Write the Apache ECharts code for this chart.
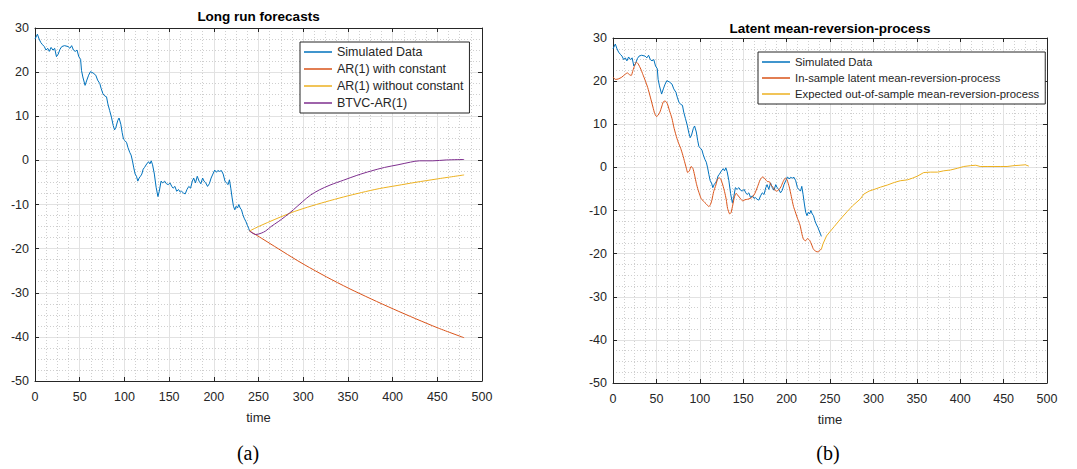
<!DOCTYPE html>
<html>
<head>
<meta charset="utf-8">
<script src="https://cdn.jsdelivr.net/npm/echarts@6/dist/echarts.min.js"></script>
<style>
html,body{margin:0;padding:0;background:#fff;}
#chart{width:1077px;height:469px;}
</style>
</head>
<body>
<div id="chart"></div>
<script>
// ---------- data ----------
const xTicks = [0, 50, 100, 150, 200, 250, 300, 350, 400, 450, 500];
const yTicks = [-50, -40, -30, -20, -10, 0, 10, 20, 30];

const simT = [0,2.7,4.6,6.5,8.5,10.4,12.3,14.2,16,18,20,22,24,26,28,30,33,37,39,41,43,45,47,49,51,52,53.5,56,58,60,62,65,68,70,72.5,74,76,78,80,81.5,83.5,85.5,87.5,89,90.5,92.5,94,96,97.5,99,101,102.5,104,106,107.5,109,110.5,112,113.5,115,116.5,118,119.5,121,122.5,125,127,128.5,130,131.5,133.5,135.5,137.5,139,141,143,145,147,149,151,153,154.5,156.5,158.5,160.5,162.5,164,166,168,170,172,174,176,177.5,179.5,181.5,183.5,185.5,187.5,189,191,193,195,197,199,201,203,204.5,206.5,208.5,210.5,212.5,214,216,217.5,219,220.5,222,223.5,225,226.5,228,229.5,231,232.5,234,236,237.5,239,240];
const simV = [27.5,28.6,27.5,26.7,26.2,25.8,25,25.4,24.7,25.6,25,25.4,23.5,24.1,25.2,25.8,26,25.8,25.4,26,25,24.7,25,23.5,22.9,20.4,18.9,17,18.2,19.3,20.1,19.8,19.3,18.2,17.4,16.3,15.1,14.6,14.4,12.8,11.3,9.8,7.9,6.9,7.5,9,9.6,8.2,6.3,4.8,4.4,4,2.9,1.8,1.2,-0.1,-1.7,-3.1,-3.6,-4.7,-4,-3.6,-3.1,-2,-1.6,-0.8,-0.3,-0.8,-0.1,-1,-3.1,-6.1,-8.2,-7,-4.7,-5.1,-4.7,-5.3,-5.5,-5.1,-5.9,-6.3,-5.9,-7,-6.6,-7.2,-7,-7.4,-7.6,-6.6,-5.9,-6.3,-4.7,-4,-5.1,-3.6,-4.7,-5.3,-4,-4.7,-5.1,-5.9,-5.3,-4,-3.1,-2.2,-2.7,-2.3,-2.5,-2.3,-3.1,-4.7,-5.1,-5.5,-4.4,-6.3,-8.5,-10.4,-11.2,-10.4,-10.8,-10,-10.8,-11.2,-12.3,-13.1,-13.9,-14.7,-15.4,-16];

const arConstT = [240,253,268,287,301,326,351,376,401,426,451,480];
const arConstV = [-16,-17.6,-19.5,-21.9,-23.6,-26.4,-29.0,-31.4,-33.7,-35.9,-38.0,-40.2];

const arNoConstT = [240,250,260,275,290,305,325,345,365,385,405,425,450,480];
const arNoConstV = [-16,-15.0,-14.1,-12.8,-11.6,-10.6,-9.4,-8.3,-7.3,-6.4,-5.7,-5.0,-4.2,-3.3];

const btvcT = [240,247,253,258,264,272,280,289,299,308,318,330,345,360,376,391,406,420,430,445,460,480];
const btvcV = [-16,-16.8,-16.5,-16.0,-15.0,-13.9,-12.7,-11.2,-9.4,-7.9,-6.7,-5.6,-4.5,-3.4,-2.4,-1.6,-1.0,-0.4,-0.1,-0.1,0.1,0.2];

const latentT = [0,3,6,10,13.5,16.5,19,21,23,25,27,29,32,34.5,37,40,43,46,48,50,52,54,56,58,60,62.5,65,68,70,72.5,75,78,80.5,82.5,84.5,86,88,90,92,94,96,98,100,101.5,104.5,107.5,110.5,112.5,114,116,118.5,120.5,122.5,124.5,126.5,128.5,130.5,132,134.5,136,138,140,142,143.5,145.5,147.5,149.5,152,155,158,161,163.5,166.5,169.5,172.5,174.5,176,178,180,182,184,186,188.5,191,193.5,196,198.5,200.5,203,205.5,208,210,212.5,215.5,217.5,219.5,222,224,226.5,229,231,234,236.5,238,240];
const latentV = [20.9,20.4,20.5,20.9,21.5,21.9,21.5,21.3,22.5,23.6,24.4,24.0,22.8,21.5,20.2,18.5,16.3,14.0,12.5,11.8,12.1,12.8,14.0,15.2,15.4,14.8,13.2,11.3,9.4,7.5,5.9,4.4,2.8,1.3,-0.2,-1.2,-0.8,0.2,-0.2,-1.8,-3.7,-5.2,-6.4,-7.2,-7.9,-8.5,-9.1,-8.5,-7.5,-5.6,-4.1,-2.7,-2.4,-2.9,-4.1,-5.6,-7.5,-9.5,-10.8,-10.5,-8.7,-6.8,-6.0,-6.4,-6.9,-7.4,-7.8,-7.5,-7.4,-7.2,-6.8,-6.0,-4.5,-2.9,-2.2,-2.5,-2.9,-3.3,-3.3,-4.1,-4.5,-5.2,-5.5,-5.2,-4.5,-3.3,-2.5,-2.9,-4.5,-6.8,-9.1,-10.3,-11.8,-13.4,-15.3,-16.7,-17.0,-16.5,-16.9,-18.0,-19.0,-19.5,-19.6,-19.2,-19.0];

const expectT = [240,242,246,250,255,262,270,276,280,285,289,295,301,308,316,324,331,339,345,351,358,366,374,381,389,397,404,412,418,423,431,439,446,454,462,469,475,479];
const expectV = [-19.0,-17.7,-15.9,-14.9,-13.7,-12.0,-10.2,-8.9,-8.2,-7.3,-6.2,-5.5,-5.1,-4.6,-4.1,-3.5,-3.1,-2.9,-2.5,-2.0,-1.2,-1.1,-1.1,-0.8,-0.6,-0.2,0.2,0.4,0.5,0.2,0.2,0.2,0.2,0.2,0.4,0.5,0.6,0.3];

const leftNames = ['Simulated Data', 'AR(1) with constant', 'AR(1) without constant', 'BTVC-AR(1)'];
const rightNames = ['Simulated Data', 'In-sample latent mean-reversion-process', 'Expected out-of-sample mean-reversion-process'];
const titles = ['Long run forecasts', 'Latent mean-reversion-process'];
const xName = 'time';
const captions = ['(a)', '(b)'];

// ---------- styling ----------
const C = { blue:'#0072BD', orange:'#D95319', yellow:'#EDB120', purple:'#7E2F8E' };
const FONT = 'Liberation Sans, Arial, Helvetica, sans-serif';
const SERIF = 'Liberation Serif, DejaVu Serif, serif';
const AX = '#262626';
const pairs = (t, v) => t.map((x, i) => [x, v[i]]);

const grids = [
  { left: 35, top: 28, width: 447, height: 353 },
  { left: 613, top: 38, width: 434, height: 345 }
];

function mainX(g) {
  return {
    gridIndex: g, type: 'value', min: xTicks[0], max: xTicks[xTicks.length-1], interval: xTicks[1]-xTicks[0],
    position: 'bottom',
    name: xName, nameLocation: 'middle', nameGap: 30,
    nameTextStyle: { fontFamily: FONT, fontSize: 13, color: AX },
    axisLine: { show: true, onZero: false, lineStyle: { color: AX, width: 1 } },
    axisTick: { show: true, inside: true, length: 4, lineStyle: { color: AX } },
    axisLabel: { show: true, margin: 9, fontFamily: FONT, fontSize: 12.5, color: AX },
    splitLine: { show: true, lineStyle: { color: '#e2e2e2', width: 1 } },
    minorTick: { show: false, splitNumber: 4 },
    minorSplitLine: { show: true, lineStyle: { color: '#cfcfcf', width: 1, type: [1, 2] } }
  };
}
function boxX(g) {
  return {
    gridIndex: g, type: 'value', min: xTicks[0], max: xTicks[xTicks.length-1], interval: xTicks[1]-xTicks[0],
    position: 'top',
    axisLine: { show: true, onZero: false, lineStyle: { color: AX, width: 1 } },
    axisTick: { show: true, inside: true, length: 4, lineStyle: { color: AX } },
    axisLabel: { show: false }, splitLine: { show: false }
  };
}
function mainY(g) {
  return {
    gridIndex: g, type: 'value', min: yTicks[0], max: yTicks[yTicks.length-1], interval: yTicks[1]-yTicks[0],
    position: 'left',
    axisLine: { show: true, onZero: false, lineStyle: { color: AX, width: 1 } },
    axisTick: { show: true, inside: true, length: 4, lineStyle: { color: AX } },
    axisLabel: { show: true, margin: 6, fontFamily: FONT, fontSize: 12.5, color: AX },
    splitLine: { show: true, lineStyle: { color: '#e2e2e2', width: 1 } },
    minorTick: { show: false, splitNumber: 4 },
    minorSplitLine: { show: true, lineStyle: { color: '#cfcfcf', width: 1, type: [1, 2] } }
  };
}
function boxY(g) {
  return {
    gridIndex: g, type: 'value', min: yTicks[0], max: yTicks[yTicks.length-1], interval: yTicks[1]-yTicks[0],
    position: 'right',
    axisLine: { show: true, onZero: false, lineStyle: { color: AX, width: 1 } },
    axisTick: { show: true, inside: true, length: 4, lineStyle: { color: AX } },
    axisLabel: { show: false }, splitLine: { show: false }
  };
}
function line(name, color, data, xi, yi, smooth) {
  return {
    name, type: 'line', data, xAxisIndex: xi, yAxisIndex: yi,
    showSymbol: false, symbol: 'none', smooth: smooth || false,
    lineStyle: { color, width: 1 }, itemStyle: { color },
    emphasis: { disabled: true }, silent: true, z: 3
  };
}
function legend(names, left, top, gap, fs) {
  return {
    data: names, orient: 'vertical', left, top,
    backgroundColor: '#ffffff', borderColor: AX, borderWidth: 1, borderRadius: 0,
    padding: [3, 6, 3, 4], itemGap: gap, itemWidth: 28, itemHeight: 1.5, icon: 'rect',
    textStyle: { fontFamily: FONT, fontSize: fs, color: AX, lineHeight: 14 },
    selectedMode: false
  };
}
function txt(text, x, y, size, family, weight) {
  return {
    type: 'text', x, y, silent: true,
    style: { text, fontSize: size, fontFamily: family, fontWeight: weight, fill: '#000', align: 'center', verticalAlign: 'middle' }
  };
}

const chart = echarts.init(document.getElementById('chart'), null, { renderer: 'svg' });
chart.setOption({
  animation: false,
  backgroundColor: '#ffffff',
  grid: grids,
  xAxis: [mainX(0), boxX(0), mainX(1), boxX(1)],
  yAxis: [mainY(0), boxY(0), mainY(1), boxY(1)],
  legend: [legend(leftNames, 300, 42, 3, 12.5), legend(rightNames, 758, 52, 2, 11.3)],
  series: [
    line(leftNames[0], C.blue, pairs(simT, simV), 0, 0),
    line(leftNames[1], C.orange, pairs(arConstT, arConstV), 0, 0, 0.3),
    line(leftNames[2], C.yellow, pairs(arNoConstT, arNoConstV), 0, 0, 0.3),
    line(leftNames[3], C.purple, pairs(btvcT, btvcV), 0, 0, 0.3),
    line(rightNames[0], C.blue, pairs(simT, simV), 2, 2),
    line(rightNames[1], C.orange, pairs(latentT, latentV), 2, 2, 0.2),
    line(rightNames[2], C.yellow, pairs(expectT, expectV), 2, 2)
  ],
  graphic: [
    txt(titles[0], 35 + 447/2, 16, 13.5, FONT, 'bold'),
    txt(titles[1], 613 + 434/2, 28, 13.5, FONT, 'bold'),
    txt(captions[0], 248, 453, 20, SERIF, 'normal'),
    txt(captions[1], 828, 453, 20, SERIF, 'normal')
  ]
});
</script>
</body>
</html>
